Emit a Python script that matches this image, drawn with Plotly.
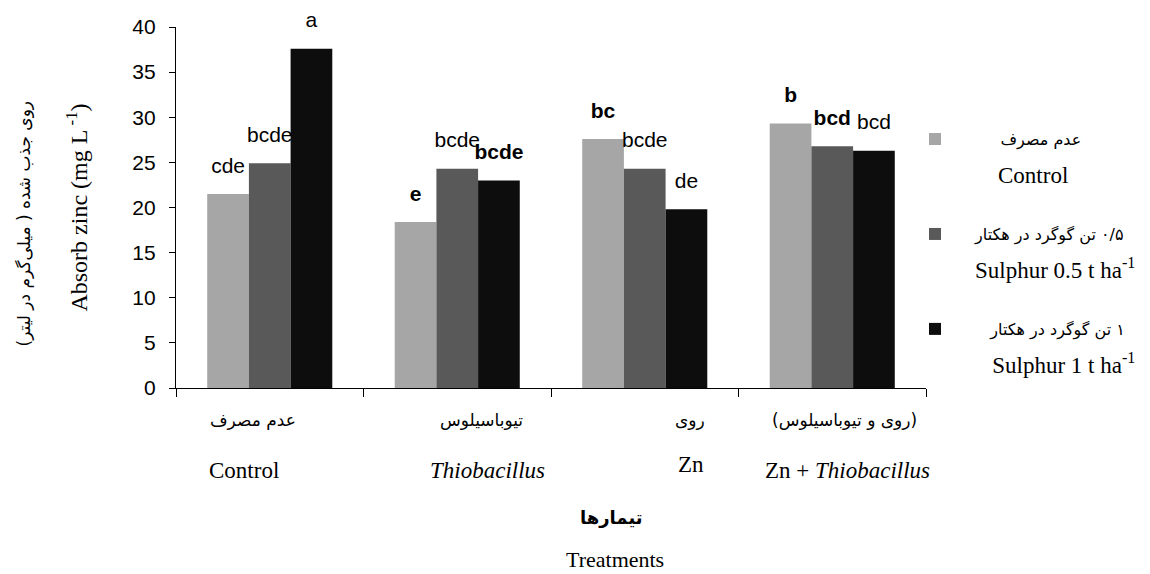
import plotly.graph_objects as go

# ---------------- data ----------------
categories = ["Control", "Thiobacillus", "Zn", "Zn + Thiobacillus"]
cat_fa = ["عدم مصرف", "تیوباسیلوس", "روی", "(روی و تیوباسیلوس)"]
cat_en = ["Control", "<i>Thiobacillus</i>", "Zn", "Zn + <i>Thiobacillus</i>"]

series_fa = ["عدم مصرف", "\u200f۰/۵ تن گوگرد در هکتار", "\u200f۱ تن گوگرد در هکتار"]
series_en = ["Control", "Sulphur 0.5 t ha<sup>-1</sup>", "Sulphur 1 t ha<sup>-1</sup>"]

control_vals = [21.5, 18.4, 27.6, 29.3]
s05_vals = [24.9, 24.3, 24.3, 26.8]
s1_vals = [37.6, 23.0, 19.8, 26.3]

control_letters = ["cde", "e", "bc", "b"]
s05_letters = ["bcde", "bcde", "bcde", "bcd"]
s1_letters = ["a", "bcde", "de", "bcd"]

y_ticks = [0, 5, 10, 15, 20, 25, 30, 35, 40]

y_title_en = "Absorb zinc (mg L<sup> -1</sup>)"
y_title_fa = "روی جذب شده ( میلی\u200cگرم در لیتر)"
x_title_fa = "تیمارها"
x_title_en = "Treatments"

# ---------------- styles ----------------
colors = ["#a6a6a6", "#595959", "#0d0d0d"]
letter_bold = [[False, True, True, True], [False, False, False, True], [False, True, False, False]]
fa_shift = [-17, 24, 45, 12]
en_shift = [-26, 30, 46, 15]
en_yshift = [-82, -82, -76, -82]
legend_indent_fa = [5, 0, 3]
legend_indent_en = [4, 0, 3]

serif = "Liberation Serif, Times New Roman, serif"
narrow = "Liberation Sans Narrow, Liberation Sans, Arial, sans-serif"
fa_font = "DejaVu Sans, sans-serif"
NB = "\u00a0"

values = [control_vals, s05_vals, s1_vals]
letters = [control_letters, s05_letters, s1_letters]

fig = go.Figure()
for i in range(3):
    name = (f"<span style='font-family:DejaVu Sans;font-size:16px'>{NB * legend_indent_fa[i]}{series_fa[i]}</span>"
            f"<br><br><span style='font-size:23px'>{NB * legend_indent_en[i]}{series_en[i]}</span>")
    fig.add_trace(go.Bar(
        x=categories, y=values[i], name=name,
        marker=dict(color=colors[i], line=dict(width=0)),
        offsetgroup=str(i), legendgroup=str(i), hoverinfo="skip",
    ))
for i in range(3):
    txt = [f"<b>{t}</b>" if b else t for t, b in zip(letters[i], letter_bold[i])]
    fig.add_trace(go.Scatter(
        x=categories, y=values[i], mode="markers+text", text=txt,
        textposition="top center",
        textfont=dict(family=narrow, size=21, color="black"),
        marker=dict(size=24, color="rgba(0,0,0,0)"),
        offsetgroup=str(i), showlegend=False, hoverinfo="skip", cliponaxis=False,
    ))

annotations = []
for j, c in enumerate(categories):
    annotations.append(dict(x=c, xref="x", y=0, yref="paper", yanchor="middle",
                            xshift=fa_shift[j], yshift=-32, text=cat_fa[j], showarrow=False,
                            font=dict(family=fa_font, size=17, color="black")))
    annotations.append(dict(x=c, xref="x", y=0, yref="paper", yanchor="middle",
                            xshift=en_shift[j], yshift=en_yshift[j], text=cat_en[j], showarrow=False,
                            font=dict(family=serif, size=23, color="black")))
annotations.append(dict(x=0.5, xref="paper", y=0, yref="paper", yanchor="middle",
                        xshift=60, yshift=-129, text=f"<b>{x_title_fa}</b>", showarrow=False,
                        font=dict(family=fa_font, size=18, color="black")))
annotations.append(dict(x=0.5, xref="paper", y=0, yref="paper", yanchor="middle",
                        xshift=64, yshift=-171, text=x_title_en, showarrow=False,
                        font=dict(family=serif, size=22, color="black")))
annotations.append(dict(x=0, xref="paper", y=0.5, yref="paper", xanchor="center", yanchor="middle",
                        xshift=-153, yshift=-16, text=y_title_fa, textangle=-90, showarrow=False,
                        font=dict(family=fa_font, size=17, color="black")))

fig.update_layout(
    width=1142, height=566,
    margin=dict(l=168, r=224, t=19, b=186, autoexpand=False),
    paper_bgcolor="white", plot_bgcolor="white",
    barmode="group", bargap=0.333, bargroupgap=0,
    scattermode="group", scattergap=0.333,
    annotations=annotations,
    showlegend=True,
    legend=dict(x=0.9587, xanchor="left", y=0.734, yanchor="top", valign="top",
                itemwidth=70, tracegroupgap=35, traceorder="grouped",
                font=dict(family=serif, size=14.6, color="black"),
                bgcolor="rgba(0,0,0,0)", itemclick=False, itemdoubleclick=False),
    xaxis=dict(type="category", range=[-0.5, 3.5], showline=True, linecolor="black", linewidth=1.3,
               ticks="outside", tickson="boundaries", ticklen=8, tickcolor="black", tickwidth=1.3,
               showticklabels=False, showgrid=False, zeroline=False, fixedrange=True),
    yaxis=dict(range=[0, 40], tickvals=y_ticks, showline=True, linecolor="black", linewidth=1.3,
               ticks="outside", ticklen=6, tickcolor="black", tickwidth=1.3,
               tickfont=dict(family=narrow, size=21, color="black"), ticklabelstandoff=9,
               showgrid=False, zeroline=False, fixedrange=True,
               title=dict(text=y_title_en, standoff=37, font=dict(family=serif, size=24, color="black"))),
)

fig.write_html("out.html")
